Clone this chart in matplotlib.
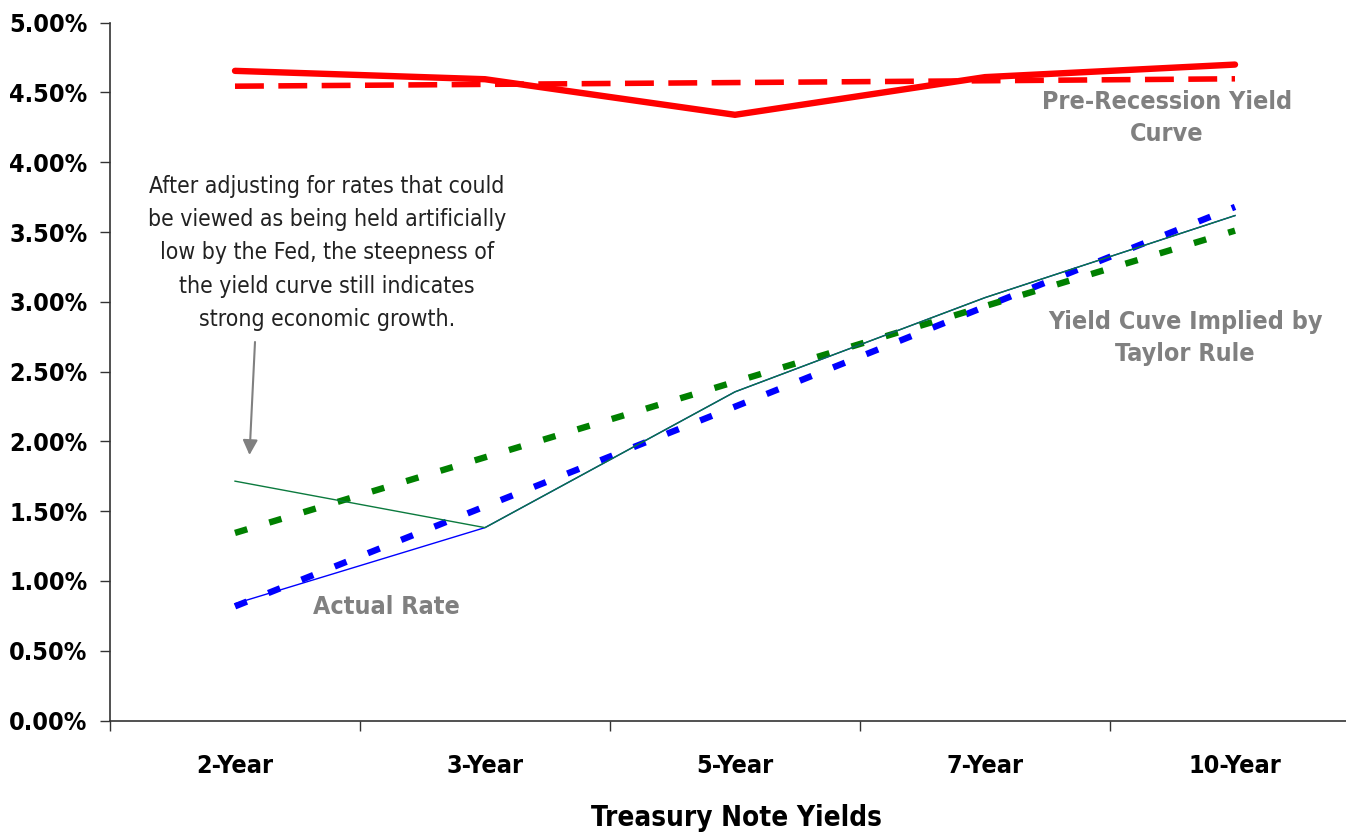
import matplotlib
matplotlib.use("Agg")
import matplotlib.pyplot as plt
from matplotlib import font_manager as fm
from matplotlib.ticker import FixedLocator, FuncFormatter

categories = ["2-Year", "3-Year", "5-Year", "7-Year", "10-Year"]
pre_recession = [4.655, 4.595, 4.34, 4.61, 4.70]
pre_recession_trend = [4.545, 4.558, 4.571, 4.584, 4.598]
actual_rate = [0.837, 1.382, 2.355, 3.03, 3.618]
adjusted_rate = [1.715, 1.382, 2.355, 3.03, 3.618]
actual_trend = [0.818, 1.534, 2.249, 2.965, 3.68]
taylor_trend = [1.344, 1.886, 2.427, 2.969, 3.51]
y_ticks = [0.0, 0.5, 1.0, 1.5, 2.0, 2.5, 3.0, 3.5, 4.0, 4.5, 5.0]

names = {f.name for f in fm.fontManager.ttflist}
if "Liberation Sans Narrow" in names:
    FAM = ["Liberation Sans Narrow", "DejaVu Sans"]
    STRETCH = "normal"
else:
    FAM = ["DejaVu Sans"]
    STRETCH = "condensed"
plt.rcParams["font.family"] = FAM
plt.rcParams["font.stretch"] = STRETCH

W, H = 1346, 836
fig = plt.figure(figsize=(W / 100, H / 100), dpi=100)
ax_left, ax_right, ax_top, ax_bot = 110, 1360, 22.7, 720.5
ax = fig.add_axes([ax_left / W, (H - ax_bot) / H, (ax_right - ax_left) / W, (ax_bot - ax_top) / H])

x = list(range(1, len(categories) + 1))

ax.plot(x, pre_recession_trend, color="#FF0000", lw=4.0, dashes=(5.2, 2.6), solid_capstyle="butt", dash_capstyle="butt", zorder=3)
ax.plot(x, pre_recession, color="#FF0000", lw=4.6, solid_capstyle="round", solid_joinstyle="miter", zorder=4)
ax.plot(x, actual_trend, color="#0000FF", lw=4.6, dashes=(2.0, 3.6), dash_capstyle="butt", zorder=3)
ax.plot(x, taylor_trend, color="#008000", lw=4.6, dashes=(2.0, 3.6), dash_capstyle="butt", zorder=3)
ax.plot(x, actual_rate, color="#0000FF", lw=1.0, zorder=4)
ax.plot(x, adjusted_rate, color="#0B7A3E", lw=1.0, zorder=5)

ax.set_xlim(0.5, 5.5)
ax.set_ylim(0, 5)

for s in ["top", "right"]:
    ax.spines[s].set_visible(False)
for s in ["left", "bottom"]:
    ax.spines[s].set_linewidth(1.2)
    ax.spines[s].set_color("#333333")

ax.yaxis.set_major_locator(FixedLocator(y_ticks))
ax.yaxis.set_major_formatter(FuncFormatter(lambda v, p: f"{v:.2f}%"))
ax.tick_params(axis="y", direction="out", length=7.2, width=1.0, color="#333333", pad=9,
               labelsize=18)
for lab in ax.get_yticklabels():
    lab.set_fontweight("bold")

ax.set_xticks(x)
ax.set_xticklabels(categories, fontsize=18, fontweight="bold")
ax.tick_params(axis="x", which="major", length=0, pad=24)
ax.set_xticks([0.5 + i for i in range(len(categories) + 1)], minor=True)
ax.tick_params(axis="x", which="minor", direction="out", length=7.2, width=1.0, color="#333333")

def dx(px):
    return (px - ax_left) / 250 + 0.5

def dy(py):
    return (ax_bot - py) / (ax_bot - ax_top) * 5

gray = "#808080"
ax.text(dx(1167), dy(118), "Pre-Recession Yield\nCurve", ha="center", va="center", color=gray,
        fontsize=18, fontweight="bold", linespacing=1.45)
ax.text(dx(1185), dy(338), "Yield Cuve Implied by\nTaylor Rule", ha="center", va="center", color=gray,
        fontsize=18, fontweight="bold", linespacing=1.45)
ax.text(dx(386), dy(607), "Actual Rate", ha="center", va="center", color=gray,
        fontsize=18, fontweight="bold")
ax.text(dx(327), dy(253),
        "After adjusting for rates that could\nbe viewed as being held artificially\nlow by the Fed, the steepness of\nthe yield curve still indicates\nstrong economic growth.",
        ha="center", va="center", color="#222222", fontsize=16.5, linespacing=1.58)
ax.annotate("", xy=(dx(249.5), dy(455)), xytext=(dx(255), dy(342)),
            arrowprops=dict(arrowstyle="-|>,head_length=0.9,head_width=0.45", color=gray, lw=1.5,
                            shrinkA=0, shrinkB=0))

fig.text(736 / W, 1 - 818 / H, "Treasury Note Yields", ha="center", va="center",
         fontsize=20, fontweight="bold")

fig.savefig("out.png", dpi=100)
